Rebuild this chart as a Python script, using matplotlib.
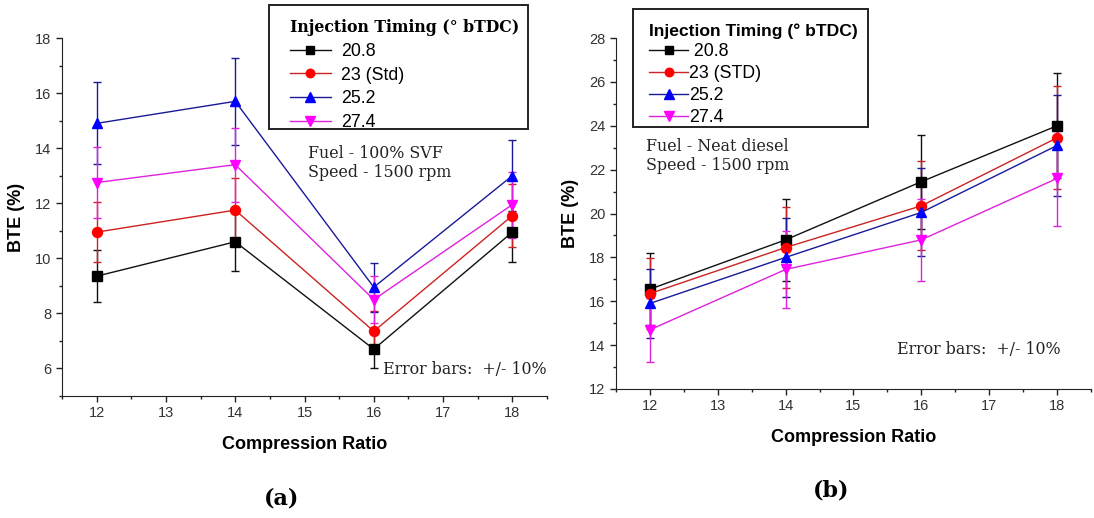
import matplotlib
matplotlib.use("Agg")
import matplotlib.pyplot as plt
from matplotlib.ticker import MultipleLocator
from matplotlib.patches import Rectangle
import numpy as np

# Compression ratios tested
compression_ratio = [12, 14, 16, 18]

# Injection timing series (deg bTDC)
timing_labels_a = ["20.8", "23 (Std)", "25.2", "27.4"]
timing_labels_b = [" 20.8", "23 (STD)", "25.2", "27.4"]

# Brake thermal efficiency (%) - 100% SVF
bte_svf_208 = [9.35, 10.6, 6.7, 10.95]
bte_svf_230 = [10.95, 11.75, 7.35, 11.55]
bte_svf_252 = [14.9, 15.7, 8.95, 13.0]
bte_svf_274 = [12.75, 13.4, 8.5, 11.95]

# Brake thermal efficiency (%) - neat diesel
bte_dsl_208 = [16.55, 18.8, 21.45, 24.0]
bte_dsl_230 = [16.35, 18.45, 20.35, 23.45]
bte_dsl_252 = [15.9, 18.0, 20.05, 23.1]
bte_dsl_274 = [14.7, 17.45, 18.8, 21.6]

error_fraction = 0.10

colors = ["#000000", "#ff0000", "#0000ff", "#ff00ff"]
line_colors = ["#111111", "#cc2222", "#1a1a99", "#dd22dd"]
markers = ["s", "o", "^", "v"]
msizes = [6.8, 7.2, 7.8, 7.8]

sans = ["Liberation Sans", "DejaVu Sans"]
serif = ["DejaVu Serif"]

plt.rcParams["font.family"] = sans
plt.rcParams["axes.edgecolor"] = "#222222"

W, H = 1094, 518
fig = plt.figure(figsize=(W / 100, H / 100), dpi=100)
ax_a = fig.add_axes([62 / W, 1 - 396 / H, 485 / W, 358 / H])
ax_b = fig.add_axes([616 / W, 1 - 389 / H, 475 / W, 351 / H])


def fx(px):
    return px / W


def fy(py):
    return 1 - py / H


def draw_panel(ax, series, labels, ylim):
    handles = []
    for vals, lab, c, lc, m, ms in zip(series, labels, colors, line_colors, markers, msizes):
        vals = np.asarray(vals)
        cont = ax.errorbar(compression_ratio, vals, yerr=error_fraction * vals,
                           color=lc, ecolor=lc, elinewidth=1.0, capsize=3,
                           capthick=1.0, linewidth=1.0, marker=m, markersize=ms,
                           markerfacecolor=c, markeredgecolor=c, label=lab)
        handles.append(cont)
    ax.set_xlim(11.5, 18.5)
    ax.set_ylim(*ylim)
    ax.xaxis.set_major_locator(MultipleLocator(1))
    ax.xaxis.set_minor_locator(MultipleLocator(0.5))
    ax.yaxis.set_major_locator(MultipleLocator(2))
    ax.yaxis.set_minor_locator(MultipleLocator(1))
    ax.spines["top"].set_visible(False)
    ax.spines["right"].set_visible(False)
    ax.tick_params(which="major", direction="out", length=4.5, width=1, pad=3,
                   labelsize=10.5, labelcolor="#333333", color="#222222")
    ax.tick_params(which="minor", direction="out", length=2.5, width=1, color="#222222")
    ax.set_xlabel("Compression Ratio", fontsize=13, fontweight="bold", labelpad=11)
    ax.set_ylabel("BTE (%)", fontsize=13, fontweight="bold", labelpad=7)
    return handles


h_a = draw_panel(ax_a, [bte_svf_208, bte_svf_230, bte_svf_252, bte_svf_274],
                 timing_labels_a, (5, 18))
h_b = draw_panel(ax_b, [bte_dsl_208, bte_dsl_230, bte_dsl_252, bte_dsl_274],
                 timing_labels_b, (12, 28))

# Legend frames
for x0, y0, x1, y1 in [(269, 5, 528, 129), (632.5, 9, 868, 127)]:
    fig.patches.append(Rectangle((fx(x0), fy(y1)), fx(x1) - fx(x0), fy(y0) - fy(y1),
                                 transform=fig.transFigure, fill=False,
                                 edgecolor="#222222", linewidth=1.4))

leg_a = fig.legend([h[0] for h in h_a], timing_labels_a, loc="upper left",
                   bbox_to_anchor=(fx(290), fy(19)), fontsize=12.8,
                   title="Injection Timing (° bTDC)",
                   title_fontproperties={"family": serif, "weight": "bold", "size": 11.3},
                   frameon=False, handlelength=2.3, handletextpad=0.55, markerscale=0.85,
                   labelspacing=0.38, borderpad=0, borderaxespad=0)
leg_a._legend_box.align = "left"

leg_b = fig.legend([h[0] for h in h_b], timing_labels_b, loc="upper left",
                   bbox_to_anchor=(fx(649), fy(23)), fontsize=12.8,
                   title="Injection Timing (° bTDC)",
                   title_fontproperties={"family": sans, "weight": "bold", "size": 12.6},
                   frameon=False, handlelength=2.2, handletextpad=0.05, markerscale=0.85,
                   labelspacing=0.27, borderpad=0, borderaxespad=0)
leg_b._legend_box.align = "left"

# Operating condition notes
fig.text(fx(308), fy(163), "Fuel - 100% SVF\nSpeed - 1500 rpm",
         family=serif, fontsize=11.4, va="center", ha="left", linespacing=1.22, color="#222222")
fig.text(fx(383), fy(369), "Error bars:  +/- 10%",
         family=serif, fontsize=11.4, va="center", ha="left", color="#222222")
fig.text(fx(646), fy(156), "Fuel - Neat diesel\nSpeed - 1500 rpm",
         family=serif, fontsize=11.4, va="center", ha="left", linespacing=1.08, color="#222222")
fig.text(fx(897), fy(350), "Error bars:  +/- 10%",
         family=serif, fontsize=11.4, va="center", ha="left", color="#222222")

# Panel captions
fig.text(fx(282), fy(498), "(a)", family=serif, fontweight="bold",
         fontsize=16, ha="center", va="center")
fig.text(fx(831), fy(490), "(b)", family=serif, fontweight="bold",
         fontsize=16, ha="center", va="center")

fig.savefig("out.png", dpi=100)
